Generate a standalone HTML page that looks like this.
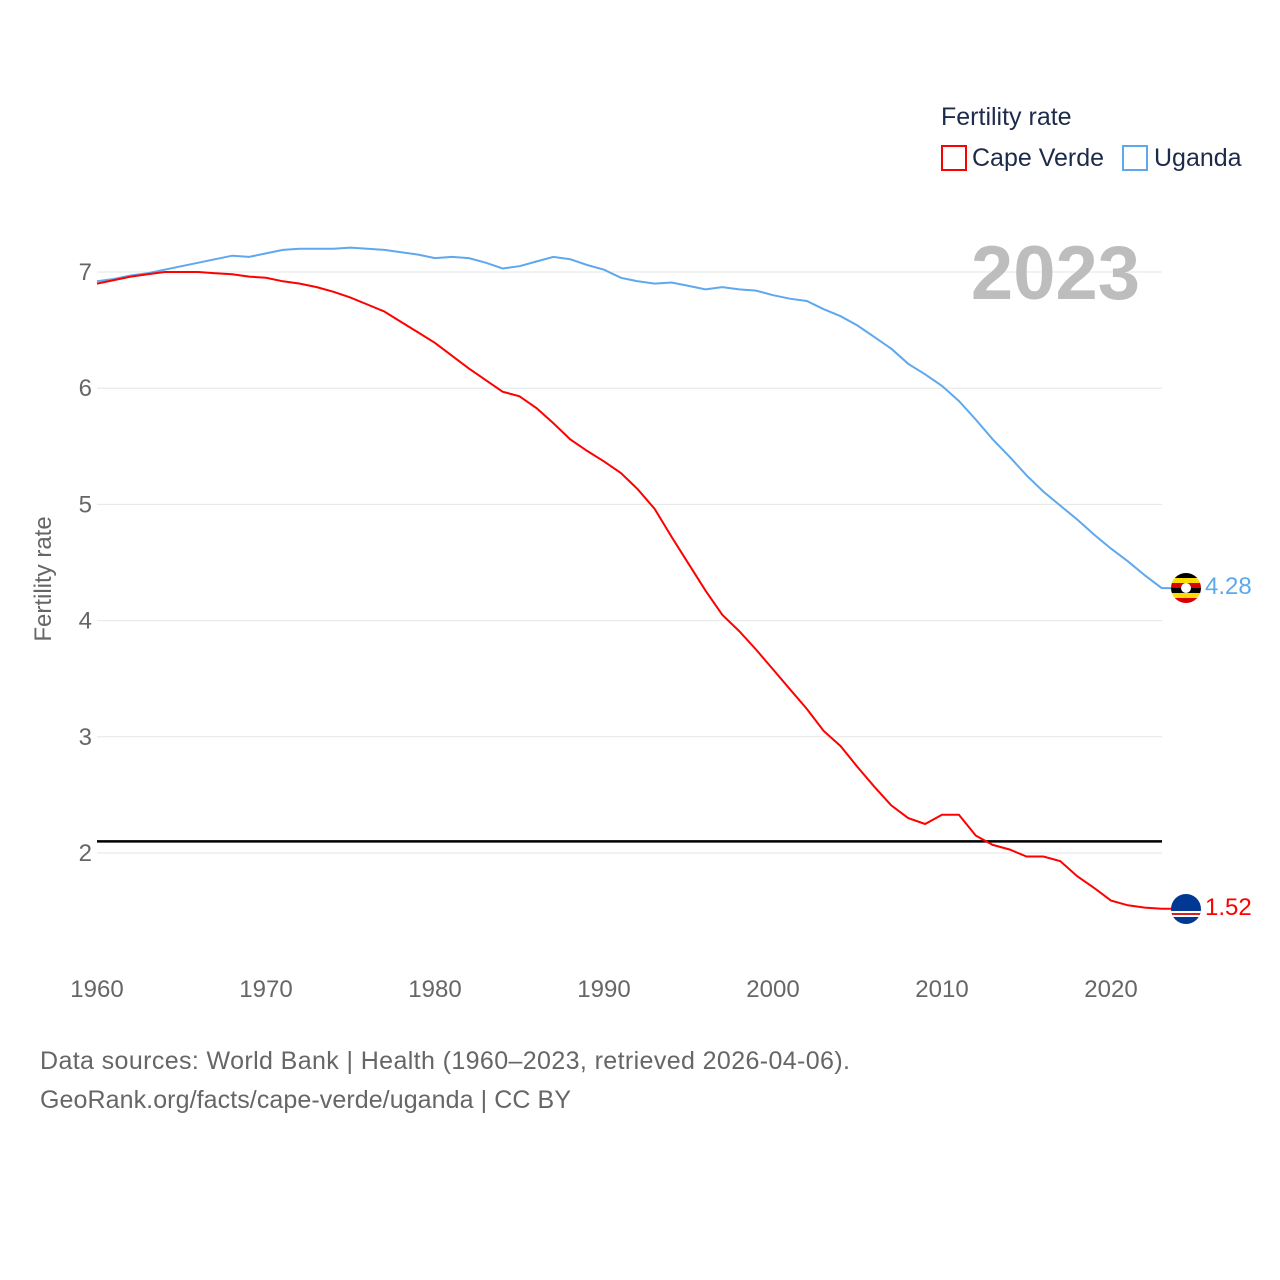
<!DOCTYPE html>
<html><head><meta charset="utf-8">
<style>
body{margin:0;background:#fff;font-family:"Liberation Sans",sans-serif}
svg{display:block}
</style></head>
<body>
<svg id="chart" width="1280" height="1280" xmlns="http://www.w3.org/2000/svg">
<defs>
<clipPath id="c1"><circle cx="1186" cy="588" r="15"/></clipPath>
<clipPath id="c2"><circle cx="1186" cy="909" r="15"/></clipPath>
</defs>
<g id="grid"></g>
<g id="lines"></g>
<text x="1140" y="299" text-anchor="end" font-size="76" font-weight="bold" fill="#bdbdbd">2023</text>
<text x="941" y="125" font-size="25" fill="#1d2b4a">Fertility rate</text>
<g><rect x="942" y="146" width="24" height="24" fill="none" stroke="#f00" stroke-width="2"/><text x="972" y="166" font-size="25" fill="#1d2b4a">Cape Verde</text></g>
<g><rect x="1123" y="146" width="24" height="24" fill="none" stroke="#5ea8ee" stroke-width="2"/><text x="1154" y="166" font-size="25" fill="#1d2b4a">Uganda</text></g>
<text transform="translate(51,579) rotate(-90)" text-anchor="middle" font-size="24" fill="#666">Fertility rate</text>
<g clip-path="url(#c1)">
<rect x="1171" y="573" width="30" height="5" fill="#000"/><rect x="1171" y="578" width="30" height="5" fill="#fcdc04"/><rect x="1171" y="583" width="30" height="5" fill="#d90000"/><rect x="1171" y="588" width="30" height="5" fill="#000"/><rect x="1171" y="593" width="30" height="5" fill="#fcdc04"/><rect x="1171" y="598" width="30" height="5" fill="#d90000"/><circle cx="1186" cy="588" r="5" fill="#fff"/>
</g>
<g clip-path="url(#c2)">
<rect x="1171" y="894" width="30" height="30" fill="#003893"/><rect x="1171" y="911" width="30" height="6" fill="#fff"/><rect x="1171" y="913" width="30" height="2" fill="#cf2027"/>
</g>
<text x="1205" y="594" font-size="24" fill="#5ea8ee">4.28</text>
<text x="1205" y="915" font-size="24" fill="#f00">1.52</text>
<text x="40" y="1069" font-size="25" fill="#666" textLength="810">Data sources: World Bank | Health (1960–2023, retrieved 2026-04-06).</text>
<text x="40" y="1108" font-size="25" fill="#666" textLength="531">GeoRank.org/facts/cape-verde/uganda | CC BY</text>
</svg>
<script>
const years=[];for(let y=1960;y<=2023;y++)years.push(y);
const uganda=[6.92,6.94,6.97,6.99,7.02,7.05,7.08,7.11,7.14,7.13,7.16,7.19,7.20,7.20,7.20,7.21,7.20,7.19,7.17,7.15,7.12,7.13,7.12,7.08,7.03,7.05,7.09,7.13,7.11,7.06,7.02,6.95,6.92,6.90,6.91,6.88,6.85,6.87,6.85,6.84,6.80,6.77,6.75,6.68,6.62,6.54,6.44,6.34,6.21,6.12,6.02,5.89,5.73,5.56,5.41,5.25,5.11,4.99,4.87,4.74,4.62,4.51,4.39,4.28];
const capeVerde=[6.90,6.93,6.96,6.98,7.00,7.00,7.00,6.99,6.98,6.96,6.95,6.92,6.90,6.87,6.83,6.78,6.72,6.66,6.57,6.48,6.39,6.28,6.17,6.07,5.97,5.93,5.83,5.70,5.56,5.46,5.37,5.27,5.13,4.96,4.72,4.49,4.26,4.05,3.91,3.75,3.58,3.41,3.24,3.05,2.92,2.74,2.57,2.41,2.30,2.25,2.33,2.33,2.15,2.07,2.03,1.97,1.97,1.93,1.80,1.70,1.59,1.55,1.53,1.52];
const yTicks=[2,3,4,5,6,7];
const xTicks=[1960,1970,1980,1990,2000,2010,2020];
const refLine=[2.1];
const NS="http://www.w3.org/2000/svg";
const X=y=>97+(y-1960)*(1111-97)/60;
const Y=v=>853-(v-2)*116.2;
const grid=document.getElementById('grid'),lines=document.getElementById('lines');
function mk(tag,attrs,parent){const e=document.createElementNS(NS,tag);for(const k in attrs)e.setAttribute(k,attrs[k]);parent.appendChild(e);return e;}
yTicks.forEach(t=>{
 const l=mk('line',{x1:97,x2:1162,y1:Y(t),y2:Y(t),stroke:'#e6e6e6','stroke-width':1},grid);
 
 
 const tx=mk('text',{x:92,y:Y(t)+8,'text-anchor':'end','font-size':24,fill:'#666'},grid);
 tx.textContent=t;
 
 
});
xTicks.forEach(t=>{
 const tx=mk('text',{x:X(t),y:997,'text-anchor':'middle','font-size':24,fill:'#666'},grid);
 tx.textContent=t;
 
 
});
refLine.forEach(v=>{
 const l=mk('line',{x1:97,x2:1162,y1:Y(v),y2:Y(v),stroke:'#000','stroke-width':2.5},lines);
 
 
});
function series(vals,color,name){
 let d=vals.map((v,i)=>(i?'L':'M')+X(years[i]).toFixed(1)+','+Y(v).toFixed(1)).join(' ');
 d+=' L1172,'+Y(vals[vals.length-1]).toFixed(1);
 const p=mk('path',{d:d,fill:'none',stroke:color,'stroke-width':2},lines);
 
 
}
series(uganda,'#5ea8ee','uganda-line');
series(capeVerde,'#ff0000','cape-verde-line');
</script>
</body></html>
